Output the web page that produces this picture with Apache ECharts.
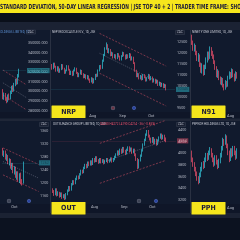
<!DOCTYPE html>
<html><head><meta charset="utf-8">
<style>html,body{margin:0;padding:0;background:#0c1220;}#c{width:240px;height:240px;}</style>
<script src="https://cdn.jsdelivr.net/npm/echarts@6/dist/echarts.min.js"></script>
</head><body><div id="c"></div>
<script>
// ---------------- DATA ----------------
const headerText = 'STANDARD DEVIATION, 50-DAY LINEAR REGRESSION | JSE TOP 40 + 2 | TRADER TIME FRAME: SHORT TERM';
const headerVisible = 'STANDARD DEVIATION, 50-DAY LINEAR REGRESSION | JSE TOP 40 + 2 | TRADER TIME FRAME: SHO';
const symbols = ['NRP', 'N91', 'OUT', 'PPH'];
const titles = ['NEPI ROCKCASTLE N.V., 1D, JSE', 'NINETY ONE LIMITED, 1D, JSE', 'OUTSURANCE GROUP LIMITED, 1D, JSE', 'PEPKOR HOLDINGS LTD, 1D, JSE'];
const outOhlc = 'O4250 H4272 L4190 C4214 \u221236 (\u22120.85%)';
const currency = 'ZAC';

// [open, close, low, high]
const aCandles = [
 [300500,294000,292000,302500],[294000,297500,291500,299000],[297500,292500,290500,298500],[292500,290000,288000,294000],
 [290000,295500,289000,297000],[295500,293000,291000,298000],[293000,299000,292000,301000],[299000,304500,297500,306000],
 [304500,301000,299500,306500],[301000,307500,300000,309000],[307500,311000,305500,313000],[311000,308500,307000,313500],
 [308500,316000,307500,318000],[316000,321570,314500,323500]
];
const nrpCandles = [
 [11350,11450,11280,11520],[11450,11300,11240,11500],[11300,11500,11260,11560],[11500,11380,11330,11560],
 [11380,11200,11150,11420],[11200,11350,11160,11400],[11350,11150,11100,11390],[11150,11250,11100,11300],
 [11250,11450,11220,11500],[11450,11300,11250,11490],[11300,11100,11050,11330],[11100,11200,11060,11250],
 [11200,11400,11170,11450],[11400,11250,11200,11440],[11250,11050,11000,11280],[11050,11150,11000,11200],
 [11150,11000,10950,11190],[11000,11200,10970,11250],[11200,11300,11160,11350],[11300,11100,11050,11330],
 [11100,10950,10900,11140],[10950,11050,10900,11100],[11050,11200,11020,11250],[11200,11050,11000,11230],
 [11050,10900,10850,11080],[10900,11000,10860,11050],[11000,10850,10800,11030],[10850,10950,10800,11000],
 [10950,10800,10750,10980],[10800,10700,10640,10840],[10700,10850,10660,10900],[10850,10650,10600,10880],
 [10650,10800,10620,10850],[10800,11000,10770,11050],[11000,10950,10900,11060],[10950,11200,10920,11250],
 [11200,11400,11160,11450],[11400,11300,11250,11460],[11300,11650,11280,11700],[11650,11900,11600,11960],
 [11900,12200,11860,12260],[12200,12350,12150,12480],[12350,12050,12000,12400],[12050,12150,11980,12220],
 [12150,11900,11850,12180],[11900,12000,11860,12060],[12000,11800,11750,12030],[11800,11900,11760,11950],
 [11900,11750,11700,11940],[11750,11950,11720,12000],[11950,11850,11800,11990],[11850,11700,11650,11880],
 [11700,11850,11660,11900],[11850,12000,11820,12060],[12000,11900,11850,12040],[11900,11750,11700,11930],
 [11750,11900,11720,11950],[11900,11800,11750,11940],[11800,11950,11770,12000],[11950,11700,11650,11980],
 [11700,11800,11660,11850],[11800,11550,11500,11830],[11550,11200,11150,11580],[11200,10950,10900,11240],
 [10950,11050,10900,11100],[11050,10850,10800,11080],[10850,10950,10800,11000],[10950,10800,10750,10980],
 [10800,11000,10770,11050],[11000,10900,10850,11040],[10900,10750,10700,10930],[10750,10850,10710,10900],
 [10850,11000,10820,11050],[11000,10800,10750,11030],[10800,10900,10760,10950],[10900,10700,10650,10930],
 [10700,10800,10660,10850],[10800,10650,10600,10830],[10650,10750,10610,10800],[10750,10550,10500,10780],
 [10550,10650,10510,10700],[10650,10500,10450,10680],[10500,10600,10460,10650],[10600,10450,10400,10630],
 [10450,10550,10410,10600],[10550,10345,10300,10580]
];
const n91Candles = [
 [4180,4120,4090,4200],[4120,4040,4010,4150],[4040,3960,3930,4070],[3960,3990,3920,4030],
 [3990,3900,3870,4010],[3900,3820,3790,3930],[3820,3860,3780,3900],[3860,3740,3710,3880],
 [3740,3660,3630,3770],[3660,3720,3620,3760],[3720,3620,3590,3740],[3620,3700,3600,3740],
 [3700,3800,3680,3840],[3800,3880,3770,3920],[3880,3840,3800,3920],[3840,3950,3820,3990],
 [3950,3900,3860,3980],[3900,3860,3820,3930],[3860,3780,3750,3880],[3780,3700,3670,3800],
 [3700,3600,3570,3720],[3600,3640,3560,3680],[3640,3560,3530,3660],[3560,3500,3470,3580],
 [3500,3540,3460,3570],[3540,3460,3430,3560],[3460,3420,3390,3480],[3420,3500,3400,3530],
 [3500,3460,3430,3520],[3460,3560,3440,3590],[3560,3620,3540,3650],[3620,3580,3550,3640],
 [3580,3660,3560,3690],[3660,3600,3570,3680],[3600,3540,3510,3620],[3540,3620,3520,3650],
 [3620,3580,3550,3640]
];
const dCandles = [
 [1300,1288,1284,1308],[1288,1296,1280,1300],[1296,1276,1272,1300],[1276,1282,1268,1290],
 [1282,1262,1258,1286],[1262,1270,1254,1276],[1270,1248,1244,1274],[1248,1258,1240,1262],
 [1258,1236,1230,1262],[1236,1244,1226,1252],[1244,1222,1216,1250],[1222,1232,1210,1236],
 [1232,1212,1204,1236],[1212,1226,1200,1230],[1226,1204,1196,1232],[1204,1200,1192,1212],
 [1200,1262,1198,1266]
];
const outCandles = [
 [3380,3350,3320,3400],[3350,3300,3270,3370],[3300,3380,3280,3400],[3380,3290,3260,3400],
 [3290,3320,3270,3350],[3320,3270,3240,3340],[3270,3310,3250,3330],[3310,3250,3220,3330],
 [3250,3280,3230,3300],[3280,3230,3200,3300],[3230,3300,3210,3320],[3300,3360,3280,3380],
 [3360,3420,3340,3440],[3420,3380,3350,3440],[3380,3470,3360,3490],[3470,3520,3450,3540],
 [3520,3490,3460,3540],[3490,3560,3470,3580],[3560,3600,3540,3620],[3600,3580,3550,3620],
 [3580,3640,3560,3660],[3640,3700,3620,3720],[3700,3680,3650,3720],[3680,3750,3660,3770],
 [3750,3800,3730,3820],[3800,3770,3740,3820],[3770,3840,3750,3860],[3840,3810,3780,3860],
 [3810,3860,3790,3880],[3860,3820,3790,3880],[3820,3900,3800,3920],[3900,3870,3840,3920],
 [3870,3930,3850,3950],[3930,3880,3850,3950],[3880,3850,3820,3900],[3850,3900,3830,3920],
 [3900,3860,3830,3920],[3860,3880,3840,3900],[3880,3840,3810,3900],[3840,3870,3820,3890],
 [3870,3900,3850,3920],[3900,3860,3830,3920],[3860,3880,3840,3900],[3880,3910,3860,3930],
 [3910,3870,3840,3930],[3870,3900,3850,3920],[3900,3940,3880,3960],[3940,3980,3920,4000],
 [3980,4030,3960,4050],[4030,3990,3960,4050],[3990,4060,3970,4080],[4060,4020,3990,4080],
 [4020,4090,4000,4110],[4090,4040,4010,4110],[4040,4000,3970,4060],[4000,4060,3980,4080],
 [4060,4100,4040,4120],[4100,4050,4020,4120],[4050,4080,4030,4100],[4080,4020,3990,4100],
 [4020,4060,4000,4080],[4060,3980,3950,4080],[3980,3900,3870,4000],[3900,3760,3730,3920],
 [3760,3880,3740,3900],[3880,3960,3860,3980],[3960,4050,3940,4070],[4050,4150,4030,4170],
 [4150,4230,4130,4250],[4230,4320,4210,4340],[4320,4380,4300,4400],[4380,4300,4270,4400],
 [4300,4250,4220,4320],[4250,4200,4170,4270],[4200,4260,4180,4280],[4260,4180,4150,4280],
 [4180,4230,4160,4250],[4230,4160,4130,4250],[4160,4220,4140,4240],[4220,4270,4200,4290],
 [4270,4320,4250,4340],[4320,4260,4230,4340],[4260,4300,4240,4320],[4300,4240,4210,4320],
 [4240,4214,4190,4272]
];
const pphCandles = [
 [1680,1650,1640,1690],[1650,1620,1610,1660],[1620,1600,1590,1630],[1600,1580,1570,1610],
 [1580,1560,1550,1590],[1560,1540,1530,1570],[1540,1525,1515,1550],[1525,1555,1520,1565],
 [1555,1580,1545,1590],[1580,1600,1570,1610],[1600,1590,1580,1615],[1590,1620,1585,1630],
 [1620,1640,1610,1650],[1640,1625,1615,1650],[1625,1650,1620,1660],[1650,1665,1640,1675],
 [1665,1640,1630,1670],[1640,1620,1610,1650],[1620,1600,1590,1630],[1600,1630,1595,1640],
 [1630,1610,1600,1640],[1610,1590,1580,1620],[1590,1615,1585,1625],[1615,1640,1605,1650],
 [1640,1670,1630,1680],[1670,1700,1660,1715],[1700,1690,1680,1710],[1690,1720,1685,1730],
 [1720,1680,1670,1725],[1680,1650,1640,1690],[1650,1620,1610,1660],[1620,1660,1615,1670],
 [1660,1640,1630,1670],[1640,1670,1635,1680],[1670,1650,1640,1680],[1650,1630,1620,1660],
 [1630,1660,1625,1670]
];
// regression channel lines: [startIndex, startValue, endIndex, endValue]
const aChannel = [[-0.5,322200,18.5,306770],[-0.5,309000,18.5,293600],[-0.5,296470,18.5,281030]];
const nrpChannel = [[36,12890,85,11404],[36,11986,85,10500],[36,11077,85,9591]];
const dChannel = [[-0.5,1308,27.5,1257],[-0.5,1266,27.5,1215],[-0.5,1225,27.5,1174]];
const outChannel = [[35,4171,84,4566],[35,3829,84,4223],[35,3486,84,3880]];
// month tick labels
const rowMonthIdx = [31, 53, 74];
const rowMonthLbl = ['Aug', 'Sep', 'Oct'];
const sideMonthIdx = [31];
const sideMonthLbl = ['Aug'];
const dMonthIdx = [9];
const dMonthLbl = ['Oct'];

// ---------------- STYLE ----------------
const UP = '#33c9dc', DOWN = '#f2516d';
const AXIS_TXT = '#b4b8c4';
const FONT = 'Roboto, "Liberation Sans", sans-serif';
const NARROW = '"Liberation Sans Narrow", "DejaVu Sans Condensed", "Roboto Condensed", sans-serif';

const panels = [
 {left:0, width:26, top:33.3, height:87.4, min:270000, max:360000, interval:10000, n:19, data:aCandles, digits:3, axis:true, mIdx:[], mLbl:[], lm:2.7, ch:aChannel, lastCol:UP},
 {left:50, width:125, top:31, height:88, min:9000, max:13000, interval:500, n:92, data:nrpCandles, digits:0, axis:true, mIdx:rowMonthIdx, mLbl:rowMonthLbl, lm:1, ch:nrpChannel, lastCol:UP},
 {left:190, width:50, top:31, height:88, min:3000, max:4200, interval:200, n:37, data:n91Candles, digits:0, axis:false, mIdx:sideMonthIdx, mLbl:sideMonthLbl, lm:1, ch:null},
 {left:0, width:38, top:118, height:91, min:1120, max:1400, interval:40, n:28, data:dCandles, digits:0, axis:true, mIdx:dMonthIdx, mLbl:dMonthLbl, lm:0, ch:dChannel, lastCol:UP},
 {left:52, width:124, top:118.33, height:93.33, min:3000, max:4600, interval:200, n:92, data:outCandles, digits:0, axis:true, mIdx:rowMonthIdx, mLbl:rowMonthLbl, lm:2.2, ch:outChannel, lastCol:DOWN},
 {left:190, width:50, top:118, height:93, min:1400, max:1800, interval:100, n:37, data:pphCandles, digits:0, axis:false, mIdx:sideMonthIdx, mLbl:sideMonthLbl, lm:1.5, ch:null}
];

const grid = [], xAxis = [], yAxis = [], series = [];
panels.forEach((p, k) => {
  grid.push({left:p.left, top:p.top, width:p.width, height:p.height, containLabel:false});
  const cats = []; for (let i = 0; i < p.n; i++) cats.push('d' + i);
  const mmap = {}; p.mIdx.forEach((ix, j) => mmap[ix] = p.mLbl[j]);
  xAxis.push({type:'category', gridIndex:k, data:cats, boundaryGap:true,
    axisLine:{show:false}, axisTick:{show:false}, splitLine:{show:false},
    axisLabel:{show:true, inside:true, interval:0, margin:p.lm, fontSize:4, color:AXIS_TXT, fontFamily:FONT,
      formatter:(v, i) => mmap[i] || ''}});
  yAxis.push({type:'value', gridIndex:k, position:'right', min:p.min, max:p.max, interval:p.interval,
    axisLine:{show:false}, axisTick:{show:false}, splitLine:{show:false},
    axisLabel:{show:p.axis, showMinLabel:false, showMaxLabel:false, margin:2, align:'left', fontSize:3.7,
      color:AXIS_TXT, fontFamily:FONT, formatter:v => v.toFixed(p.digits)}});
  const last = p.data[p.data.length - 1][1];
  const s = {type:'candlestick', xAxisIndex:k, yAxisIndex:k, data:p.data, barWidth:1.1,
    itemStyle:{color:UP, color0:DOWN, borderColor:UP, borderColor0:DOWN, borderWidth:0.7}};
  if (p.axis) {
    s.markLine = {symbol:'none', silent:true, animation:false,
      lineStyle:{color:p.lastCol, width:0.5, type:'dotted', opacity:0.45},
      label:{show:true, position:'end', distance:1, formatter:() => last.toFixed(p.digits),
        backgroundColor:p.lastCol, color:p.lastCol === UP ? '#0b1222' : '#ffffff', fontSize:3.7, fontFamily:FONT,
        padding:[0.8,1.5,0.4,1.5]},
      data:[{yAxis:last}]};
  }
  series.push(s);
  if (p.ch) {
    p.ch.forEach((c, j) => {
      series.push({type:'line', xAxisIndex:k, yAxisIndex:k, symbol:'none', silent:true,
        data:[[c[0], c[1]], [c[2], c[3]]],
        lineStyle: j === 1 ? {color:'#8a8fa0', width:0.5, type:[1,1.2]} : {color:'#c24a5e', width:0.6, type:[2,1.5]},
        z:1});
    });
  }
});

// header scale so the visible part fills the width
const mc = document.createElement('canvas').getContext('2d');
mc.font = 'bold 7px ' + NARROW;
const hScale = 241 / mc.measureText(headerVisible).width;

const g = [];
const rect = (x,y,w,h,fill,z) => g.push({type:'rect', shape:{x,y,width:w,height:h}, style:{fill}, z:z||-10, silent:true});
const text = (x,y,t,font,fill,extra) => g.push(Object.assign({type:'text', x, y, style:{text:t, font, fill, textVerticalAlign:'middle'}, z:50, silent:true}, extra||{}));
rect(0,0,240,13,'#f6e61c');
rect(0,13,240,9,'#0a0f1a');
rect(0,22,240,8,'#1b2233');
rect(0,112,240,6.5,'#0f1628');
rect(0,118.5,240,2.5,'#1f2637');
rect(0,204,240,9,'#0f1628');
rect(0,213,240,5,'#1b2233');
rect(0,218,240,22,'#0c1220');
[50,190].forEach(x => {
  g.push({type:'line', shape:{x1:x+0.5,y1:30,x2:x+0.5,y2:118.5}, style:{stroke:'#2a3142', lineWidth:1}, z:40, silent:true});
  g.push({type:'line', shape:{x1:x+0.5,y1:121,x2:x+0.5,y2:213}, style:{stroke:'#2a3142', lineWidth:1}, z:40, silent:true});
});
text(0, 7, headerText, 'bold 7px ' + NARROW, '#1b1b3a', {scaleX:hScale});
// titles
text(52, 32.5, titles[0], '3px ' + FONT, '#c9ccd6');
text(192, 32.5, titles[1], '3px ' + FONT, '#c9ccd6');
text(53, 124, titles[2], '3px ' + FONT, '#c9ccd6');
text(100, 124, outOhlc, '3px ' + FONT, DOWN);
text(192, 124, titles[3], '3px ' + FONT, '#c9ccd6');
text(-2, 32.5, 'HOLDINGS LIMITED, 1D', '3px ' + FONT, '#5d8fd0');
// currency boxes
[[27,32],[176,32.5],[40,124.5],[177,124.5]].forEach(([x,y]) => {
  g.push({type:'rect', shape:{x:x-0.5,y:y-2,width:9,height:4}, style:{fill:'#1a2133', stroke:'#3a4255', lineWidth:0.5}, z:45, silent:true});
  text(x+1, y+0.2, currency, '3px ' + FONT, AXIS_TXT);
});
// event icons
const icon = (x,y,kind,col) => {
  if (kind === 's') g.push({type:'rect', shape:{x:x-1.6,y:y-1.6,width:3.2,height:3.2,r:0.5}, style:{fill:col, stroke:'#8a8fa0', lineWidth:0.4}, z:45, silent:true});
  else g.push({type:'circle', shape:{cx:x,cy:y,r:1.7}, style:{fill:col, stroke:'#6f86d8', lineWidth:0.4}, z:45, silent:true});
};
icon(113,108,'s','#6a3344'); icon(134,108,'c','#2a45a0');
icon(9,201,'s','#3c4254'); icon(29,201,'c','#2a45a0');
icon(139,201,'s','#3c4254'); icon(156,201,'c','#2a45a0');
// symbol boxes
[[51.5,105.5,symbols[0]],[191.5,105.5,symbols[1]],[51.5,202,symbols[2]],[191.5,202,symbols[3]]].forEach(([x,y,t]) => {
  g.push({type:'rect', shape:{x,y,width:34,height:12.5,r:0.5}, style:{fill:'#f6e61c'}, z:60, silent:true});
  g.push({type:'text', x:x+17, y:y+6.5, style:{text:t, font:'bold 7px ' + NARROW, fill:'#1b1b3a', textAlign:'center', textVerticalAlign:'middle'}, z:61, silent:true});
});

const chart = echarts.init(document.getElementById('c'), null, {renderer:'canvas', width:240, height:240});
chart.setOption({
  backgroundColor:'#111a2d', animation:false,
  grid, xAxis, yAxis, series, graphic:{elements:g}
});
</script></body></html>
